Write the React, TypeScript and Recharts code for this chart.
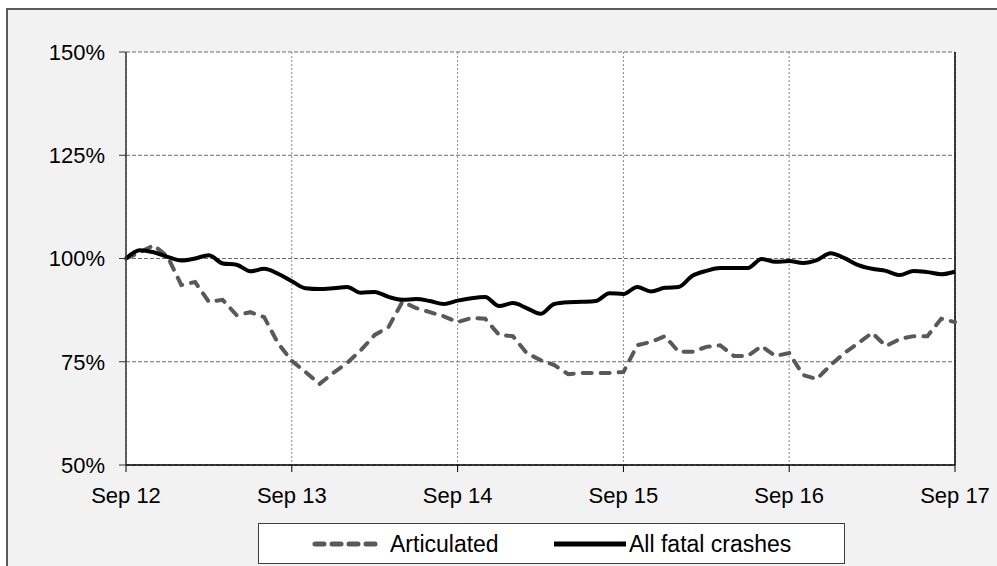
import React from 'react'
import {
    LineChart,
    Line,
    XAxis,
    YAxis,
    CartesianGrid,
    ReferenceLine,
} from 'recharts'

// monthly index, Sep 12 = 100%
const tickLabels = ['Sep 12', 'Sep 13', 'Sep 14', 'Sep 15', 'Sep 16', 'Sep 17']

const articulated = [
    100, 101.5, 103.2, 100.5, 93.6, 94.3, 89.5, 90, 86.3, 87, 85.8, 79.5,
    75.2, 72.5, 69.6, 72.3, 74.7, 77.8, 81.5, 83.4, 89.5, 88, 87, 86,
    84.6, 85.6, 85.4, 81.5, 81.2, 77.1, 75.4, 74.2, 72, 72.3, 72.3, 72.3,
    72.5, 79, 79.8, 81.2, 77.4, 77.4, 78.6, 79, 76.4, 76.4, 78.8, 76.4,
    77.1, 71.8, 70.8, 74.2, 77.1, 79.5, 82, 78.8, 80.5, 81.2, 81.2, 85.4,
    84.6,
]

const allFatal = [
    100, 102, 101.5, 100.4, 99.5, 100, 100.8, 98.8, 98.5, 96.9, 97.5, 96.3,
    94.5, 92.8, 92.6, 92.8, 93.1, 91.7, 91.9, 90.7, 90, 90.2, 89.7, 89,
    89.8, 90.4, 90.7, 88.5, 89.2, 88, 86.6, 89, 89.4, 89.5, 89.7, 91.6,
    91.4, 93.1, 92, 92.9, 93.1, 95.8, 97, 97.7, 97.7, 97.7, 99.9, 99.2,
    99.4, 98.9, 99.6, 101.3, 100.1, 98.4, 97.5, 97, 96, 97, 96.7, 96.2,
    96.8,
]

const yTicks = [50, 75, 100, 125, 150]
const xTicks = [0, 12, 24, 36, 48, 60]

const data = allFatal.map((v, i) => ({
    m: i,
    articulated: articulated[i],
    allFatal: v,
}))

const FONT = '"Liberation Sans", Arial, sans-serif'

const App: React.FC = () => {
    return (
        <div
            style={{
                position: 'fixed',
                left: 0,
                top: 0,
                width: 997,
                height: 566,
                overflow: 'hidden',
                fontFamily: FONT,
            }}
        >
            <div
                style={{
                    position: 'absolute',
                    left: 6,
                    top: 8,
                    width: 1000,
                    height: 600,
                    background: '#f2f2f2',
                    borderTop: '2px solid #5a5a5a',
                    borderLeft: '2px solid #5a5a5a',
                }}
            >
                <LineChart
                    width={990}
                    height={556}
                    data={data}
                    margin={{ top: 42, right: 43, bottom: 61, left: 0 }}
                    style={{ fontFamily: FONT }}
                >
                    <CartesianGrid
                        horizontal={true}
                        vertical={false}
                        fill="#ffffff"
                        stroke="#6e6e6e"
                        strokeDasharray="4 2"
                    />
                    <CartesianGrid
                        horizontal={false}
                        vertical={true}
                        stroke="#8a8a8a"
                        strokeDasharray="2 2"
                    />
                    <XAxis
                        dataKey="m"
                        type="number"
                        domain={[0, 60]}
                        ticks={xTicks}
                        tickFormatter={(v: number) => tickLabels[v / 12]}
                        height={40}
                        tickSize={7}
                        tickMargin={15}
                        axisLine={{ stroke: '#000', strokeWidth: 1.5 }}
                        tickLine={{ stroke: '#000', strokeWidth: 1 }}
                        tick={{ fill: '#000', fontSize: 22, fontFamily: FONT }}
                        interval={0}
                    />
                    <YAxis
                        domain={[50, 150]}
                        ticks={yTicks}
                        tickFormatter={(v: number) => `${v}%`}
                        width={118}
                        tickSize={7}
                        tickMargin={14}
                        axisLine={{ stroke: '#333', strokeWidth: 1.5 }}
                        tickLine={{ stroke: '#333', strokeWidth: 1 }}
                        tick={{ fill: '#000', fontSize: 22, fontFamily: FONT }}
                        interval={0}
                    />
                    <ReferenceLine x={60} stroke="#000" strokeWidth={1.5} />
                    <Line
                        dataKey="articulated"
                        type="linear"
                        stroke="#595959"
                        strokeWidth={4}
                        strokeDasharray="9 9"
                        strokeLinecap="round"
                        dot={false}
                        isAnimationActive={false}
                    />
                    <Line
                        dataKey="allFatal"
                        type="monotone"
                        stroke="#000"
                        strokeWidth={4}
                        dot={false}
                        isAnimationActive={false}
                    />
                </LineChart>
                <div
                    style={{
                        position: 'absolute',
                        left: 250,
                        top: 513,
                        width: 587,
                        height: 41,
                        background: '#fff',
                        border: '1px solid #404040',
                        boxSizing: 'border-box',
                    }}
                >
                    <svg width={585} height={39} style={{ display: 'block' }}>
                        <line
                            x1={56}
                            x2={120}
                            y1={20}
                            y2={20}
                            stroke="#595959"
                            strokeWidth={5}
                            strokeDasharray="9 8"
                            strokeLinecap="round"
                        />
                        <text
                            x={131}
                            y={28}
                            fontSize={23}
                            fontFamily={FONT}
                            fill="#000"
                        >
                            Articulated
                        </text>
                        <line
                            x1={295}
                            x2={367}
                            y1={20}
                            y2={20}
                            stroke="#000"
                            strokeWidth={5}
                        />
                        <text
                            x={370}
                            y={28}
                            fontSize={23}
                            fontFamily={FONT}
                            fill="#000"
                        >
                            All fatal crashes
                        </text>
                    </svg>
                </div>
            </div>
        </div>
    )
}

export default App
